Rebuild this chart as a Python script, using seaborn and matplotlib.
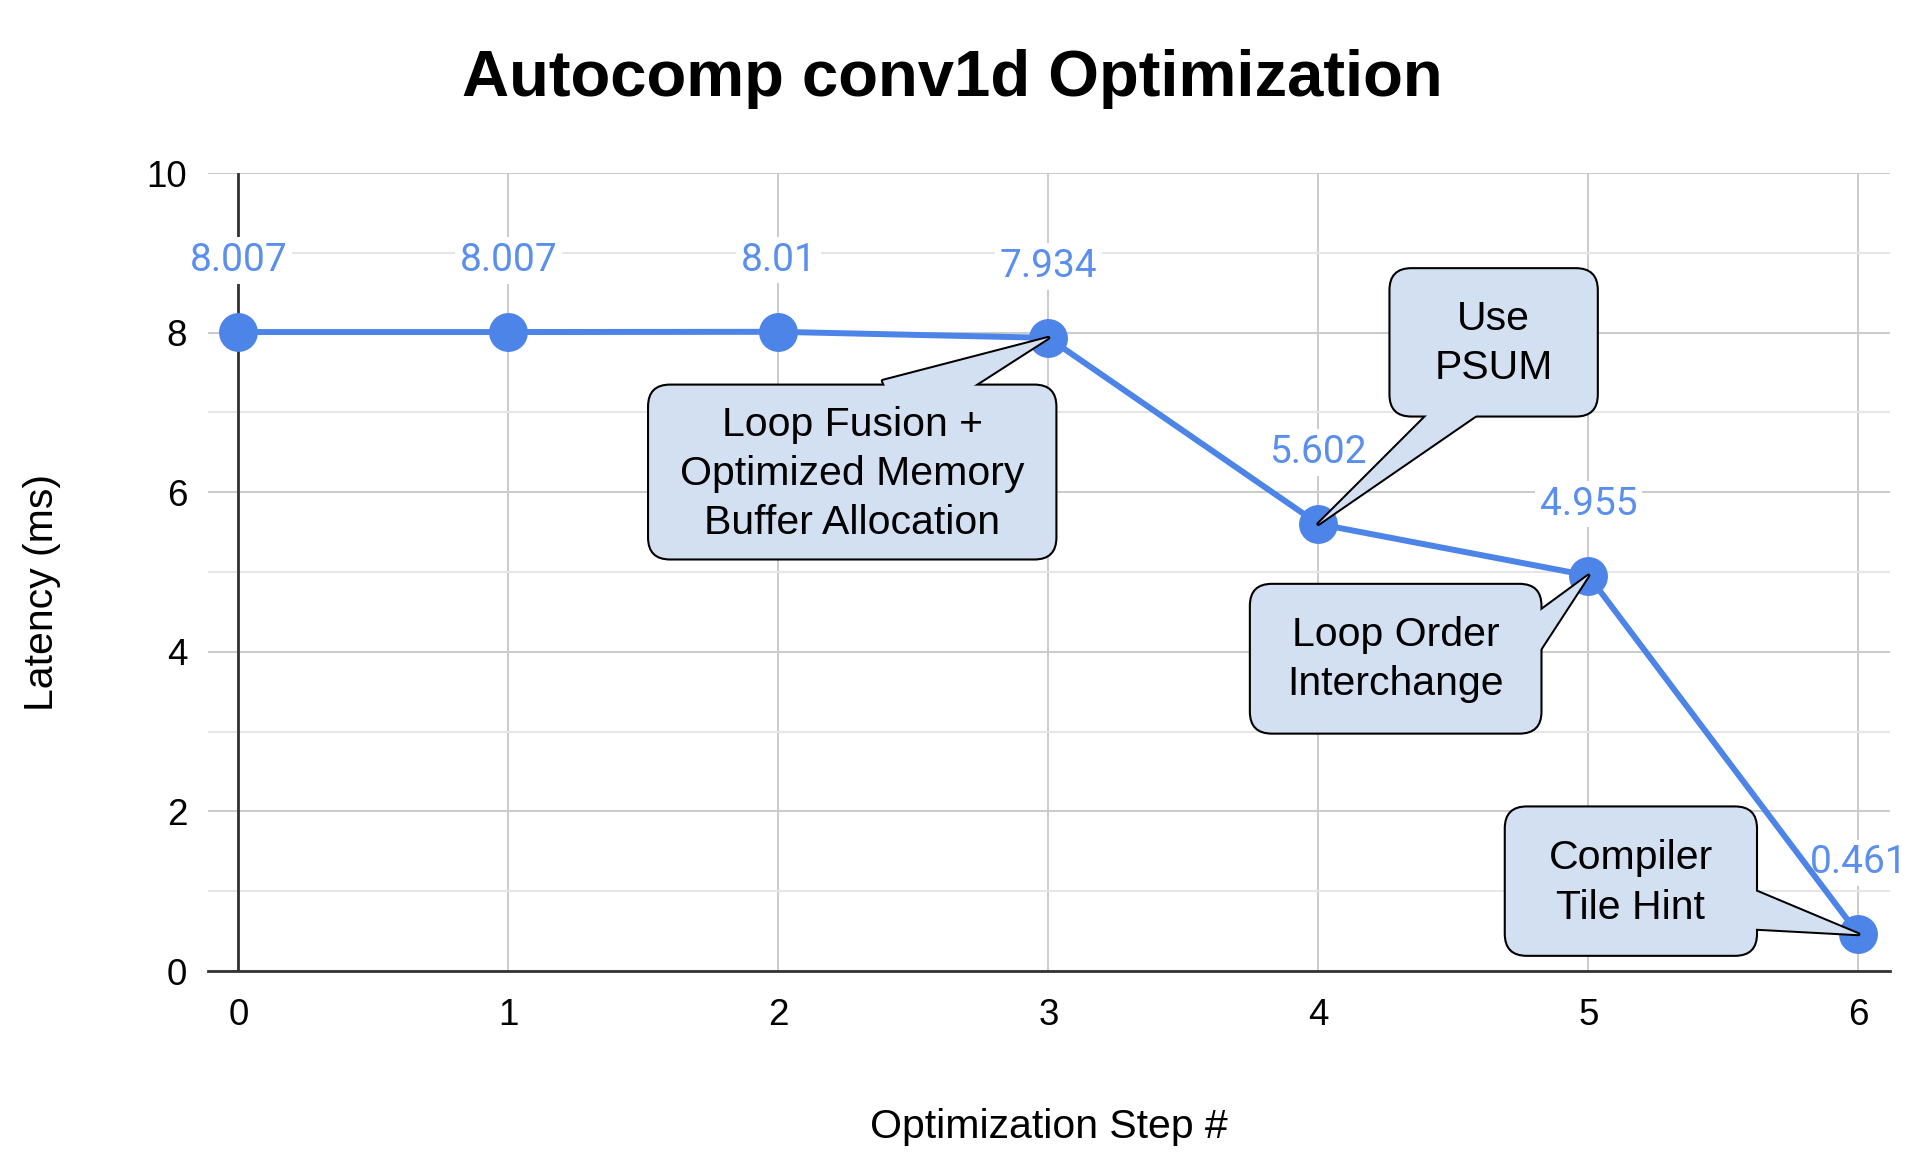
import matplotlib
matplotlib.use("Agg")
import matplotlib.pyplot as plt
from matplotlib.patches import BoxStyle
from matplotlib.ticker import MultipleLocator
import numpy as np
import pandas as pd
import seaborn as sns

# ---------------- data ----------------
steps = [0, 1, 2, 3, 4, 5, 6]
latency_ms = [8.007, 8.007, 8.01, 7.934, 5.602, 4.955, 0.461]
x_ticks = [0, 1, 2, 3, 4, 5, 6]
y_ticks = [0, 2, 4, 6, 8, 10]
callout_texts = ["Loop Fusion +\nOptimized Memory\nBuffer Allocation",
                 "Use\nPSUM",
                 "Loop Order\nInterchange",
                 "Compiler\nTile Hint"]
callout_steps = [3, 4, 5, 6]

title = "Autocomp conv1d Optimization"
x_label = "Optimization Step #"
y_label = "Latency (ms)"

# ---------------- style ----------------
LINE = "#4d84e8"
LABEL = "#5a8fee"
BOX_FILL = "#d3e0f1"
GRID_MAJOR = "#cccccc"
GRID_MINOR = "#e6e6e6"
AXIS_DARK = "#333333"
TEXT = "#000000"

sns.set_style("white")
plt.rcParams["font.family"] = ["Liberation Sans", "DejaVu Sans"]
plt.rcParams["text.color"] = TEXT

DPI = 100
fig = plt.figure(figsize=(19.28, 11.68), dpi=DPI)
fig.patch.set_facecolor("white")
ax = fig.add_axes([0.10788, 0.16866, 0.87241, 0.68322])

df = pd.DataFrame({"step": steps, "latency": latency_ms})
sns.lineplot(data=df, x="step", y="latency", ax=ax, color=LINE,
             linewidth=4.3, marker="o", markersize=28, markeredgewidth=0,
             zorder=3, clip_on=False)

ax.set_xlim(-0.1122, 6.117)
ax.set_ylim(0, 10)
ax.set_xticks(x_ticks)
ax.set_yticks(y_ticks)
ax.yaxis.set_minor_locator(MultipleLocator(1))
ax.set_axisbelow(True)
ax.grid(axis="y", which="major", color=GRID_MAJOR, lw=1.45)
ax.grid(axis="y", which="minor", color=GRID_MINOR, lw=1.45)
ax.grid(axis="x", which="major", color=GRID_MAJOR, lw=1.45)
for s in ["left", "right", "top"]:
    ax.spines[s].set_visible(False)
ax.spines["bottom"].set_color(AXIS_DARK)
ax.spines["bottom"].set_linewidth(2.0)
ax.axvline(0, color=AXIS_DARK, lw=2.0, zorder=1)
ax.tick_params(axis="both", which="both", length=0, labelcolor=TEXT)
ax.tick_params(axis="x", pad=19.5, labelsize=26.5)
ax.tick_params(axis="y", pad=15, labelsize=26.5)

ax.set_xlabel(x_label, fontsize=29.5, color=TEXT)
ax.xaxis.set_label_coords(0.5, (971 - 1138) / 798)
ax.xaxis.label.set_va("baseline")
ax.set_ylabel(y_label, fontsize=29.5, color=TEXT)
ax.yaxis.set_label_coords((42 - 208) / 1682, (971 - 592) / 798)
ax.yaxis.label.set_va("center")

fig.suptitle(title, x=0.4938, y=1 - 96 / 1168, va="baseline",
             fontsize=47, fontweight="bold", color=TEXT)

# ---------------- value labels ----------------
for xv, yv in zip(steps, latency_ms):
    ax.annotate(f"{yv:g}", (xv, yv), xytext=(0, 61), textcoords="offset pixels",
                ha="center", va="baseline", fontsize=28,
                family=["Roboto", "DejaVu Sans"], color=LABEL, zorder=2,
                bbox=dict(boxstyle="square,pad=0.12", fc="white", ec="none"))


# ---------------- callouts ----------------
class PaddedRound:
    """Rounded box with separate horizontal / top / bottom padding (pixels)."""
    def __init__(self, padx, pad_top, pad_bottom, radius):
        self.padx = padx
        self.pt = pad_top
        self.pb = pad_bottom
        self._round = BoxStyle.Round(pad=0, rounding_size=radius)

    def __call__(self, x0, y0, width, height, mutation_size):
        return self._round(x0 - self.padx, y0 - self.pb,
                           width + 2 * self.padx, height + self.pt + self.pb, 1.0)


callout_text_pos = [(2.2737, 6.232), (4.6491, 7.861), (4.2863, 3.905), (5.1574, 1.103)]
callout_pads = [(32, 21, 17.7), (45, 32, 29.3), (37.5, 32, 30.7), (44, 33, 29.3)]
callout_relpos = [(0.62, 1.0), (0.407, 0.0), (1.0, 0.438), (1.0, 0.294)]
callout_tail_px = [54, 39, 44.8, 51.7]

MS = 10  # mutation scale in points
for text, step, tpos, pads, relpos, tpx in zip(callout_texts, callout_steps,
                                               callout_text_pos, callout_pads,
                                               callout_relpos, callout_tail_px):
    yv = latency_ms[steps.index(step)]
    tail_w = tpx / (MS * DPI / 72)
    wedge = f"wedge,tail_width={tail_w:.3f},shrink_factor=0.5"
    common = dict(xy=(step, yv), xytext=tpos, textcoords="data",
                  ha="center", va="center", fontsize=29.5, linespacing=1.37,
                  multialignment="center")
    # outlined layer
    ax.annotate(text, color=(0, 0, 0, 0), zorder=5,
                bbox=dict(boxstyle=PaddedRound(*pads, 22), fc=BOX_FILL,
                          ec="black", lw=1.5),
                arrowprops=dict(arrowstyle=wedge, fc=BOX_FILL, ec="black", lw=2.9,
                                patchA=None, shrinkA=0, shrinkB=0, relpos=relpos,
                                mutation_scale=MS, joinstyle="round"),
                **common)
    # fill layer that merges tail with box, plus visible text
    ax.annotate(text, color=TEXT, zorder=6,
                arrowprops=dict(arrowstyle=wedge, fc=BOX_FILL, ec="none", lw=0,
                                patchA=None, shrinkA=0, shrinkB=0, relpos=relpos,
                                mutation_scale=MS),
                **common)

fig.savefig("out.png", dpi=DPI, facecolor="white")
